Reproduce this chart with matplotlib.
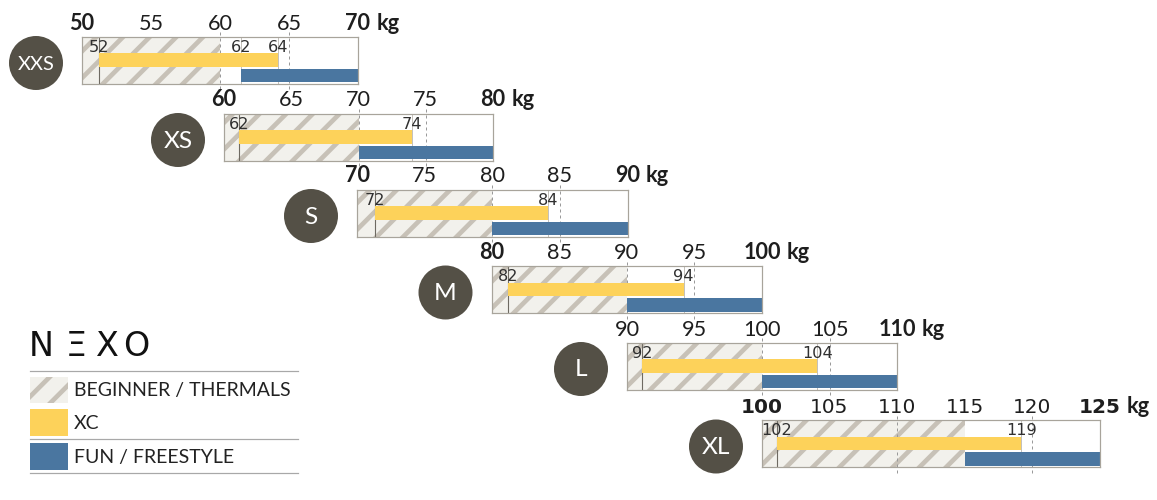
import matplotlib
matplotlib.use('Agg')
import matplotlib.pyplot as plt
from matplotlib.patches import Circle, Rectangle

# ---------------- data ----------------
sizes = ["XXS", "XS", "S", "M", "L", "XL"]
axis_min = [50, 60, 70, 80, 90, 100]
axis_max = [70, 80, 90, 100, 110, 125]
tick_step = 5
beginner_end = [60, 70, 80, 90, 100, 115]
# bar extents as drawn in the picture
xc_start = [51.2, 61.1, 71.3, 81.2, 91.1, 101.1]
xc_end = [64.2, 74.0, 84.1, 94.2, 104.1, 119.2]
fun_start = [61.5, 70, 80, 90, 100, 115]
fun_end = [70, 80, 90, 100, 110, 125]
# printed values
xc_start_label = ["52", "62", "72", "82", "92", "102"]
xc_end_label = ["64", "74", "84", "94", "104", "119"]
fun_start_label = ["62", "", "", "", "", ""]
dashed_marks = [[60, 65], [70, 75], [80, 85], [90, 95], [100, 105], [110, 120]]
min_label_bold = [True, True, True, True, False, True]
unit = "kg"
legend_labels = ["BEGINNER / THERMALS", "XC", "FUN / FREESTYLE"]
brand_letters = ["N", "Ξ", "X", "O"]

# ---------------- layout (pixels) ----------------
W, H, DPI = 1157, 500, 80
box_left = [82, 224, 357, 491.5, 627, 762]
box_right = [358, 493, 627.5, 762, 897, 1099.5]
box_top = [36.5, 113.5, 189.5, 266, 342.5, 420]
BOX_H = 47

HATCH_BG = '#F2F1EC'
HATCH_FG = '#C7C1B7'
YELLOW = '#FDD25A'
BLUE = '#4A76A0'
BORDER = '#A8A49B'
CIRCLE = '#545046'
DARK = '#1E1E1E'

plt.rcParams['hatch.linewidth'] = 4.2
FONT = 'Lato'
MONO = 'DejaVu Sans'

fig = plt.figure(figsize=(W / DPI, H / DPI), dpi=DPI)
bg = fig.add_axes([0, 0, 1, 1])
bg.set_xlim(0, W)
bg.set_ylim(H, 0)
bg.axis('off')

for i, name in enumerate(sizes):
    l, r, t = box_left[i], box_right[i], box_top[i]
    ax = fig.add_axes([l / W, 1 - (t + BOX_H) / H, (r - l) / W, BOX_H / H])
    ax.set_xlim(axis_min[i], axis_max[i])
    ax.set_ylim(0, 1)
    ax.set_xticks([])
    ax.set_yticks([])
    ax.patch.set_facecolor('white')
    for s in ax.spines.values():
        s.set_color(BORDER)
        s.set_linewidth(1.1)
        s.set_zorder(6)

    # beginner hatched zone
    ax.barh(0.5, beginner_end[i] - axis_min[i], left=axis_min[i], height=1.0,
            facecolor=HATCH_BG, edgecolor=HATCH_FG, hatch='/', linewidth=0, zorder=1)
    # dashed guide lines
    ax.vlines(dashed_marks[i], -0.12, 1.12, colors='#9A9A9A', linestyles=(0, (3, 3)),
              linewidth=0.9, clip_on=False, zorder=2)
    # range lines
    ax.vlines([xc_start[i]], 0, 1, colors='#6E6A62', linewidth=1.0, zorder=2)
    ax.vlines([xc_end[i]], 0, 1, colors='#BDBAB3', linewidth=0.8, zorder=2)
    if fun_start_label[i]:
        ax.vlines([fun_start[i]], 0, 1, colors='#BDBAB3', linewidth=0.8, zorder=2)

    # bars
    ax.barh(0.5025, xc_end[i] - xc_start[i], left=xc_start[i], height=0.285,
            color=YELLOW, linewidth=0, zorder=3)
    ax.barh(0.17, fun_end[i] - fun_start[i], left=fun_start[i], height=0.28,
            color=BLUE, linewidth=0, zorder=3)

    # small value labels
    pairs = [(xc_start[i], xc_start_label[i]), (xc_end[i], xc_end_label[i])]
    if fun_start_label[i]:
        pairs.append((fun_start[i], fun_start_label[i]))
    for v, lab in pairs:
        ax.annotate(lab, xy=(v, 0.645), xycoords=('data', 'axes fraction'),
                    xytext=(0, 1.5), textcoords='offset pixels', ha='center',
                    va='baseline', fontsize=14.5, fontweight='normal',
                    color='#303030', family=MONO, zorder=7)

    # axis labels above the box
    tfam = MONO if name == "XL" else FONT
    tsize = 19.5 if tfam == FONT else 18
    ticks = list(range(axis_min[i], axis_max[i] + 1, tick_step))
    for tv in ticks:
        if tv == axis_min[i]:
            wt = 'bold' if min_label_bold[i] else 'normal'
        elif tv == axis_max[i]:
            wt = 'bold'
        else:
            wt = 'normal'
        txt = ax.annotate(str(tv), xy=(tv, 1), xycoords=('data', 'axes fraction'),
                          xytext=(0, 7), textcoords='offset pixels', ha='center',
                          va='baseline', fontsize=tsize,
                          fontweight=wt, family=tfam, color=DARK,
                          annotation_clip=False)
        if tv == axis_max[i]:
            ax.annotate(unit, xy=(1, 0), xycoords=txt, xytext=(6, 0),
                        textcoords='offset pixels', ha='left', va='bottom',
                        fontsize=19.5, fontweight='bold',
                        family=FONT, color=DARK, annotation_clip=False)

    # size badge
    cx = l - 46
    cy = t + BOX_H / 2 + 3
    bg.add_patch(Circle((cx, cy), 27, facecolor=CIRCLE, edgecolor='none'))
    bg.text(cx, cy + 1, name, ha='center', va='center', color='white',
            fontsize=18 if len(name) > 2 else 22, fontweight='normal', family=FONT)

# ---------------- legend ----------------
for x, letter in zip([41.5, 76.5, 107.5, 136.5], brand_letters):
    bg.text(x, 346, letter, ha='center', va='center', fontsize=30,
            family=MONO, color='#111111', fontweight='normal')

for y in [370.7, 439, 473.3]:
    bg.plot([30, 298], [y, y], color='#A8A8A8', linewidth=1.1)

sw_top = [376.7, 409.3, 443.3]
sw_h = 26.3
faces = [HATCH_BG, YELLOW, BLUE]
for k, lab in enumerate(legend_labels):
    if k == 0:
        bg.add_patch(Rectangle((30, sw_top[k]), 38, sw_h, facecolor=HATCH_BG,
                               edgecolor=HATCH_FG, hatch='/', linewidth=0))
    else:
        bg.add_patch(Rectangle((30, sw_top[k]), 38, sw_h, facecolor=faces[k],
                               edgecolor='none', linewidth=0))
    bg.text(74, sw_top[k] + sw_h / 2 + 1, lab, ha='left', va='center',
            fontsize=17.5, family=FONT, color='#222222')

fig.savefig('out.png', dpi=DPI)
